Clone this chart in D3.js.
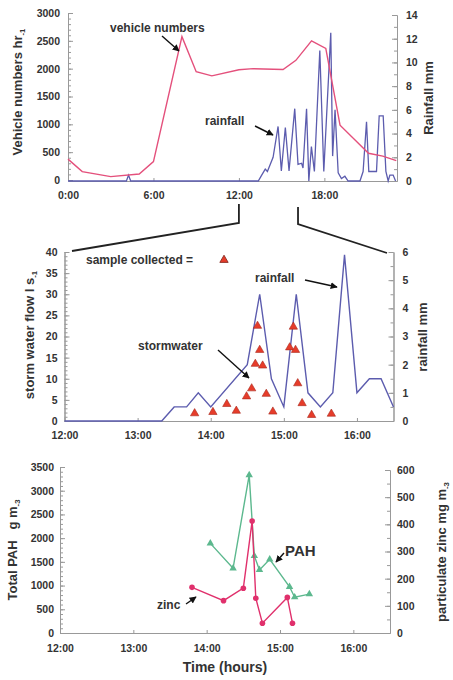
<!DOCTYPE html>
<html>
<head>
<meta charset="utf-8">
<script src="https://cdn.jsdelivr.net/npm/d3@7"></script>
<style>
body { margin: 0; background: #fff; }
text { font-family: "Liberation Sans", Arial, sans-serif; font-weight: bold; fill: #333; }
</style>
</head>
<body>
<script>
// ---- top panel: one day of traffic and rainfall ----
const vehHours = [0, 1, 3, 5, 6, 8, 9, 10.1, 12, 13, 15.1, 16, 17.1, 18.1, 19.1, 21.1, 22.1, 23.05];
const vehNumbers = [375, 150, 60, 108, 330, 2575, 1945, 1870, 1980, 2000, 1985, 2150, 2500, 2365, 985, 480, 430, 347];

const dayRainHours = [0, 4.1, 4.25, 4.4, 13.36, 13.6, 13.85, 14.0, 14.4, 14.75, 14.98, 15.26, 15.52, 15.92, 16.15, 16.4, 16.5, 16.75, 16.91,
  17.09, 17.3, 17.68, 17.96, 18.45, 18.58, 18.75, 18.97, 19.2, 19.44, 19.67, 20.5, 20.72, 20.96, 21.12, 21.66, 21.85, 22.13, 22.32,
  22.48, 22.6, 22.83, 23.0];
const dayRain = [0, 0, 0.5, 0, 0, 0.5, 1.0, 0.8, 2.0, 4.6, 0.85, 4.5, 0.85, 6.1, 1.4, 1.5, 1.1, 6.1, 0,
  2.9, 0.8, 11.0, 0.8, 12.5, 2.1, 6.0, 0.7, 0.2, 0.4, 0, 0, 0.8, 5.0, 0.8, 0.8, 5.5, 5.5, 0.8,
  0, 0.5, 0.5, 0];

const dayTicks = [0, 6, 12, 18];
const dayTickLabels = ["0:00", "6:00", "12:00", "18:00"];

// ---- middle panel: storm, 12:00 - 16:30 ----
const stormRainTime = [12, 13.33, 13.5, 13.67, 13.83, 14, 14.5, 14.67, 14.83, 15, 15.17, 15.33, 15.5, 15.67, 15.83, 16, 16.17, 16.33, 16.5];
const stormRain = [0, 0, 0.5, 0.5, 1, 0.5, 2, 4.5, 1.5, 0.5, 4.5, 1, 0.5, 1, 5.9, 1, 1.5, 1.5, 0.5];

const sampleTime = [13.78, 14.03, 14.22, 14.35, 14.49, 14.56, 14.61, 14.64, 14.67, 14.71, 14.76, 14.85, 15.08, 15.13, 15.16, 15.19, 15.25, 15.38, 15.65];
const sampleFlow = [1.8, 2.1, 4.0, 2.4, 5.8, 7.7, 13.5, 22.5, 16.8, 13.1, 6.4, 2.2, 17.4, 22.3, 16.8, 8.9, 4.2, 1.4, 1.7];

// ---- bottom panel: PAH and zinc ----
const pahTime = [14.05, 14.36, 14.58, 14.65, 14.72, 14.86, 15.13, 15.2, 15.4];
const pahValues = [1890, 1365, 3330, 1625, 1330, 1555, 975, 755, 820];
const zincTime = [13.8, 14.23, 14.5, 14.62, 14.67, 14.76, 15.1, 15.17];
const zincValues = [168, 119, 165, 412, 128, 36, 131, 36];

const stormTicks = [12, 13, 14, 15, 16];
const stormTickLabels = ["12:00", "13:00", "14:00", "15:00", "16:00"];

const vehColor = "#e4507c";
const rainColor = "#5c5cae";
const pahColor = "#5cb88e";
const zincColor = "#e0306c";
const axisColor = "#999";

const svg = d3.select("body").append("svg")
  .attr("width", 453)
  .attr("height", 680);

svg.append("defs").append("marker")
  .attr("id", "arrow")
  .attr("viewBox", "0 0 10 10")
  .attr("refX", 9).attr("refY", 5)
  .attr("markerWidth", 7).attr("markerHeight", 7)
  .attr("markerUnits", "userSpaceOnUse")
  .attr("orient", "auto")
  .append("path")
  .attr("d", "M0,0 L10,5 L0,10 z")
  .attr("fill", "#111");

function styleAxis(g) {
  g.select(".domain").attr("stroke", axisColor);
  g.selectAll(".tick line").attr("stroke", axisColor);
  g.selectAll("text").attr("fill", "#333").style("font-size", "10.5px").attr("font-family", null);
}

// y axis with inside ticks; side = "left" or "right"
function yAxis(scale, side, x, majors, minors, pad) {
  const inner = side === "left" ? d3.axisRight : d3.axisLeft;
  const outer = side === "left" ? d3.axisLeft : d3.axisRight;
  svg.append("g").attr("transform", "translate(" + x + ",0)")
    .call(inner(scale).tickValues(minors).tickSize(3).tickFormat("").tickSizeOuter(0))
    .call(styleAxis);
  svg.append("g").attr("transform", "translate(" + x + ",0)")
    .call(inner(scale).tickValues(majors).tickSize(5).tickFormat("").tickSizeOuter(0))
    .call(styleAxis);
  svg.append("g").attr("transform", "translate(" + x + ",0)")
    .call(outer(scale).tickValues(majors).tickSize(0).tickPadding(pad).tickFormat(d => String(d)))
    .call(g => g.select(".domain").remove())
    .call(styleAxis);
}

function xAxis(scale, y, ticks, labels, pad) {
  svg.append("g").attr("transform", "translate(0," + y + ")")
    .call(d3.axisTop(scale).tickValues(ticks).tickSize(3).tickFormat("").tickSizeOuter(0))
    .call(styleAxis);
  svg.append("g").attr("transform", "translate(0," + y + ")")
    .call(d3.axisBottom(scale).tickValues(ticks).tickSize(0).tickPadding(pad)
      .tickFormat((d, i) => labels[i]))
    .call(g => g.select(".domain").remove())
    .call(styleAxis);
}

// rotated title with a small lowered unit exponent
function yTitle(x, y, main, sup, size) {
  const t = svg.append("text")
    .attr("transform", "translate(" + x + "," + y + ") rotate(-90)")
    .attr("text-anchor", "middle")
    .style("font-size", size + "px")
    .style("white-space", "pre")
    .text(main);
  if (sup) {
    t.append("tspan").attr("dy", 3).style("font-size", (size * 0.6) + "px").text(sup);
  }
}

function label(x, y, txt, size) {
  svg.append("text").attr("x", x).attr("y", y)
    .style("font-size", size + "px").text(txt);
}

function arrow(x1, y1, x2, y2) {
  svg.append("line")
    .attr("x1", x1).attr("y1", y1).attr("x2", x2).attr("y2", y2)
    .attr("stroke", "#111").attr("stroke-width", 1.4)
    .attr("marker-end", "url(#arrow)");
}

// ================= top panel =================
const xDay = d3.scaleLinear().domain([0, 23.1]).range([68, 397]);
const yVeh = d3.scaleLinear().domain([0, 3000]).range([180, 13]);
const yDayRain = d3.scaleLinear().domain([0, 14]).range([181, 15]);

yAxis(yVeh, "left", 68, d3.range(0, 3001, 500), d3.range(0, 3001, 100), 8);
yAxis(yDayRain, "right", 397, d3.range(0, 15, 2), d3.range(0, 15, 1), 9);
xAxis(xDay, 181, dayTicks, dayTickLabels, 11);

svg.append("path")
  .datum(dayRainHours.map((h, i) => [h, dayRain[i]]))
  .attr("fill", "none").attr("stroke", rainColor).attr("stroke-width", 1.3)
  .attr("d", d3.line().x(d => xDay(d[0])).y(d => yDayRain(d[1])));

svg.append("path")
  .datum(vehHours.map((h, i) => [h, vehNumbers[i]]))
  .attr("fill", "none").attr("stroke", vehColor).attr("stroke-width", 1.4)
  .attr("d", d3.line().x(d => xDay(d[0])).y(d => yVeh(d[1])));

yTitle(22, 92, "Vehicle numbers hr", "-1", 13);
yTitle(433, 98, "Rainfall mm", null, 13);

label(110, 32, "vehicle numbers", 12);
arrow(162, 36, 179, 51);
label(205, 125, "rainfall", 12);
arrow(255, 126, 273, 135);

// zoom connectors from top panel to middle panel
svg.append("path")
  .attr("d", d3.line()([[xDay(12), 204], [xDay(12), 223], [72, 251]]))
  .attr("fill", "none").attr("stroke", "#222").attr("stroke-width", 1.8);
svg.append("path")
  .attr("d", d3.line()([[xDay(16.15), 207], [xDay(16.15), 224], [387, 253]]))
  .attr("fill", "none").attr("stroke", "#222").attr("stroke-width", 1.8);

// ================= middle panel =================
const xStorm = d3.scaleLinear().domain([12, 16.5]).range([64.5, 393.5]);
const yFlow = d3.scaleLinear().domain([0, 40]).range([421, 252]);
const yStormRain = d3.scaleLinear().domain([0, 6]).range([421, 252]);

yAxis(yFlow, "left", 64.5, d3.range(0, 41, 5), d3.range(0, 41, 1), 7);
yAxis(yStormRain, "right", 393.5, d3.range(0, 7, 1), d3.range(0, 6.01, 0.5), 9);
xAxis(xStorm, 421, stormTicks, stormTickLabels, 11);

svg.append("path")
  .datum(stormRainTime.map((h, i) => [h, stormRain[i]]))
  .attr("fill", "none").attr("stroke", rainColor).attr("stroke-width", 1.4)
  .attr("d", d3.line().x(d => xStorm(d[0])).y(d => yStormRain(d[1])));

const tri = d3.symbol(d3.symbolTriangle).size(30);
svg.append("g").selectAll("path")
  .data(sampleTime.map((h, i) => [h, sampleFlow[i]]))
  .join("path")
  .attr("transform", d => "translate(" + xStorm(d[0]) + "," + yFlow(d[1]) + ")")
  .attr("d", tri)
  .attr("fill", "#e63c2a").attr("stroke", "#a8281c").attr("stroke-width", 0.6);

label(86, 264, "sample collected =", 12);
svg.append("path")
  .attr("transform", "translate(224,260)")
  .attr("d", tri)
  .attr("fill", "#e63c2a").attr("stroke", "#7a2218").attr("stroke-width", 0.8);

label(255, 282, "rainfall", 12);
arrow(305, 280, 337, 287);
label(138, 350, "stormwater", 12);
arrow(218, 350, 249, 378);

yTitle(34, 335, "storm water flow l s", "-1", 13);
yTitle(427, 337, "rainfall mm", null, 13);

// ================= bottom panel =================
const xChem = d3.scaleLinear().domain([12, 16.5]).range([60, 390]);
const yPah = d3.scaleLinear().domain([0, 3500]).range([633, 467]);
const yZinc = d3.scaleLinear().domain([0, 600]).range([633, 470]);

yAxis(yPah, "left", 60, d3.range(0, 3501, 500), d3.range(0, 3501, 100), 6);
yAxis(yZinc, "right", 390, d3.range(0, 601, 100), d3.range(0, 601, 50), 7);
xAxis(xChem, 633, stormTicks, stormTickLabels, 12);

svg.append("path")
  .datum(pahTime.map((h, i) => [h, pahValues[i]]))
  .attr("fill", "none").attr("stroke", pahColor).attr("stroke-width", 1.4)
  .attr("d", d3.line().x(d => xChem(d[0])).y(d => yPah(d[1])));
svg.append("g").selectAll("path")
  .data(pahTime.map((h, i) => [h, pahValues[i]]))
  .join("path")
  .attr("transform", d => "translate(" + xChem(d[0]) + "," + yPah(d[1]) + ")")
  .attr("d", d3.symbol(d3.symbolTriangle).size(24))
  .attr("fill", pahColor);

svg.append("path")
  .datum(zincTime.map((h, i) => [h, zincValues[i]]))
  .attr("fill", "none").attr("stroke", zincColor).attr("stroke-width", 1.4)
  .attr("d", d3.line().x(d => xChem(d[0])).y(d => yZinc(d[1])));
svg.append("g").selectAll("circle")
  .data(zincTime.map((h, i) => [h, zincValues[i]]))
  .join("circle")
  .attr("cx", d => xChem(d[0])).attr("cy", d => yZinc(d[1]))
  .attr("r", 2.8)
  .attr("fill", zincColor);

label(285, 556, "PAH", 15);
arrow(284, 553, 276, 562);
label(157, 609, "zinc", 12);
arrow(186, 604, 196, 597);

yTitle(17, 550, "Total PAH   g m", "-3", 13);
yTitle(446, 552, "particulate zinc mg m", "-3", 13);

svg.append("text")
  .attr("x", 225).attr("y", 672)
  .attr("text-anchor", "middle")
  .style("font-size", "14px")
  .text("Time (hours)");
</script>
</body>
</html>
